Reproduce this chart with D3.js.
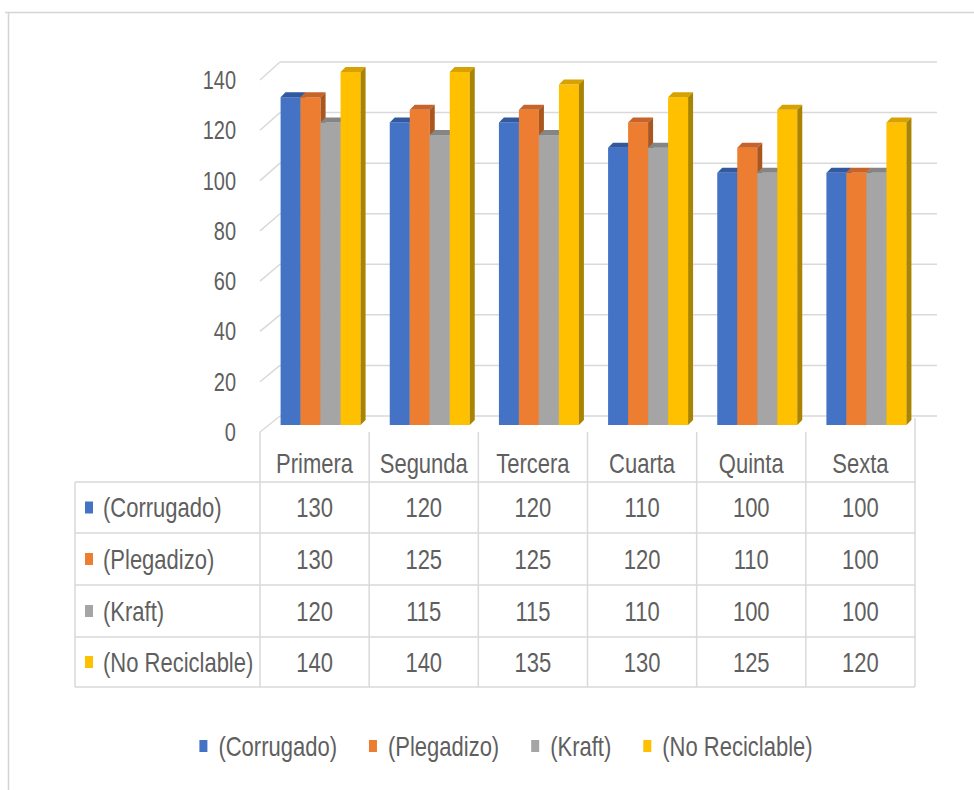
<!DOCTYPE html>
<html>
<head>
<meta charset="utf-8">
<script src="https://cdn.jsdelivr.net/npm/d3@7"></script>
<style>
  html, body { margin: 0; padding: 0; background: #ffffff; }
  svg { display: block; }
  text { font-family: "Liberation Sans", Arial, sans-serif; fill: #5f5f5f; }
</style>
</head>
<body>
<svg id="chart" width="974" height="790"></svg>
<script>
// Categories (rounds) and series values
const categories = ["Primera", "Segunda", "Tercera", "Cuarta", "Quinta", "Sexta"];
const seriesNames = ["(Corrugado)", "(Plegadizo)", "(Kraft)", "(No Reciclable)"];
const corrugado = [130, 120, 120, 110, 100, 100];
const plegadizo = [130, 125, 125, 120, 110, 100];
const kraft = [120, 115, 115, 110, 100, 100];
const noReciclable = [140, 140, 135, 130, 125, 120];
const yTicks = [0, 20, 40, 60, 80, 100, 120, 140];

const seriesValues = [corrugado, plegadizo, kraft, noReciclable];
const frontColors = ["#4472C4", "#ED7D31", "#A5A5A5", "#FFC000"];
const topColors = ["#32599f", "#c6642a", "#858585", "#d7a200"];
const sideColors = ["#2c4f8f", "#a9561f", "#787878", "#a88400"];

const svg = d3.select("#chart");

// Outer chart frame
svg.append("line").attr("x1", 5).attr("x2", 974).attr("y1", 12.5).attr("y2", 12.5)
  .attr("stroke", "#d4d4d4").attr("stroke-width", 1.5);
svg.append("line").attr("x1", 8.5).attr("x2", 8.5).attr("y1", 12).attr("y2", 790)
  .attr("stroke", "#d4d4d4").attr("stroke-width", 1.5);

// Scales: category bands over the table columns, value scales for the
// bar plane, the back wall and the front edge of the side wall
const x = d3.scaleBand().domain(categories).range([260, 915]).padding(0);
const xSeries = d3.scaleBand().domain(seriesNames).range([0, 80]).padding(0);
const yBar = d3.scaleLinear().domain([0, 140]).range([425, 72]);
const yBack = d3.scaleLinear().domain([0, 140]).range([416, 62]);
const yFront = d3.scaleLinear().domain([0, 140]).range([432, 80]);

const wallLeft = 260, wallBack = 280, wallRight = 937;
const barShift = 6;     // bars sit a little behind the front edge
const depthX = 5, depthY = 5;

// Stretched text helper
function label(g, px, py, str, anchor, size) {
  return g.append("text")
    .attr("transform", `translate(${px},${py}) scale(1,1.25)`)
    .attr("text-anchor", anchor)
    .attr("dy", "0.36em")
    .style("font-size", size + "px")
    .text(str);
}

// Back-wall gridlines and the slanted side-wall lines
const grid = svg.append("g");
yTicks.forEach(v => {
  grid.append("line")
    .attr("x1", wallBack).attr("x2", wallRight)
    .attr("y1", yBack(v)).attr("y2", yBack(v))
    .attr("stroke", "#d9d9d9").attr("stroke-width", 1.5);
  grid.append("line")
    .attr("x1", wallLeft).attr("x2", wallBack)
    .attr("y1", yFront(v)).attr("y2", yBack(v))
    .attr("stroke", "#d9d9d9").attr("stroke-width", 1.5);
});

// Y axis labels
const yAxisG = svg.append("g");
yTicks.forEach(v => label(yAxisG, 236, yFront(v), String(v), "end", 20));

// 3D columns
const bars = svg.append("g");
const base = yBar(0);
categories.forEach((c, ci) => {
  const gx = x(c) + x.bandwidth() / 2 - 40 + barShift;
  seriesNames.forEach((s, si) => {
    const v = seriesValues[si][ci];
    const x0 = gx + xSeries(s);
    const w = xSeries.bandwidth();
    const yt = yBar(v);
    bars.append("rect")
      .attr("x", x0).attr("y", yt)
      .attr("width", w).attr("height", base - yt)
      .attr("fill", frontColors[si]);
    bars.append("path")
      .attr("d", `M${x0},${yt}L${x0 + depthX},${yt - depthY}L${x0 + w + depthX},${yt - depthY}L${x0 + w},${yt}Z`)
      .attr("fill", topColors[si]);
    bars.append("path")
      .attr("d", `M${x0 + w},${yt}L${x0 + w + depthX},${yt - depthY}L${x0 + w + depthX},${base - depthY}L${x0 + w},${base}Z`)
      .attr("fill", sideColors[si]);
  });
});

// Data table
const table = svg.append("g");
const tableLeft = 75, tableRight = 915;
const rowLines = [482, 533, 585, 637, 687];
const lineColor = "#d9d9d9";
rowLines.forEach(yy => {
  table.append("line").attr("x1", tableLeft).attr("x2", tableRight)
    .attr("y1", yy).attr("y2", yy).attr("stroke", lineColor).attr("stroke-width", 1.5);
});
table.append("line").attr("x1", tableLeft).attr("x2", tableLeft)
  .attr("y1", rowLines[0]).attr("y2", rowLines[4]).attr("stroke", lineColor).attr("stroke-width", 1.5);
categories.forEach(c => {
  table.append("line").attr("x1", x(c)).attr("x2", x(c))
    .attr("y1", yFront(0)).attr("y2", rowLines[4]).attr("stroke", lineColor).attr("stroke-width", 1.5);
});
table.append("line").attr("x1", tableRight).attr("x2", tableRight)
  .attr("y1", yBack(0) + 2).attr("y2", rowLines[4]).attr("stroke", lineColor).attr("stroke-width", 1.5);

// Column headers
categories.forEach(c => label(table, x(c) + x.bandwidth() / 2, 463, c, "middle", 22));

// Rows: legend key, series name, values
seriesNames.forEach((s, si) => {
  const cy = (rowLines[si] + rowLines[si + 1]) / 2;
  table.append("rect").attr("x", 85).attr("y", cy - 6).attr("width", 8).attr("height", 12)
    .attr("fill", frontColors[si]);
  label(table, 103, cy, s, "start", 22);
  categories.forEach((c, ci) => {
    label(table, x(c) + x.bandwidth() / 2, cy, String(seriesValues[si][ci]), "middle", 22);
  });
});

// Legend below the table
const legend = svg.append("g");
const legendY = 746;
const items = seriesNames.map((s, si) => {
  const g = legend.append("g");
  g.append("rect").attr("x", 0).attr("y", legendY - 6).attr("width", 8).attr("height", 12)
    .attr("fill", frontColors[si]);
  const t = label(g, 19, legendY, s, "start", 22);
  return { g, w: 19 + t.node().getComputedTextLength() };
});
const gap = 32;
const total = d3.sum(items, d => d.w) + gap * (items.length - 1);
let cursor = 506 - total / 2;
items.forEach(it => {
  it.g.attr("transform", `translate(${cursor},0)`);
  cursor += it.w + gap;
});
</script>
</body>
</html>
